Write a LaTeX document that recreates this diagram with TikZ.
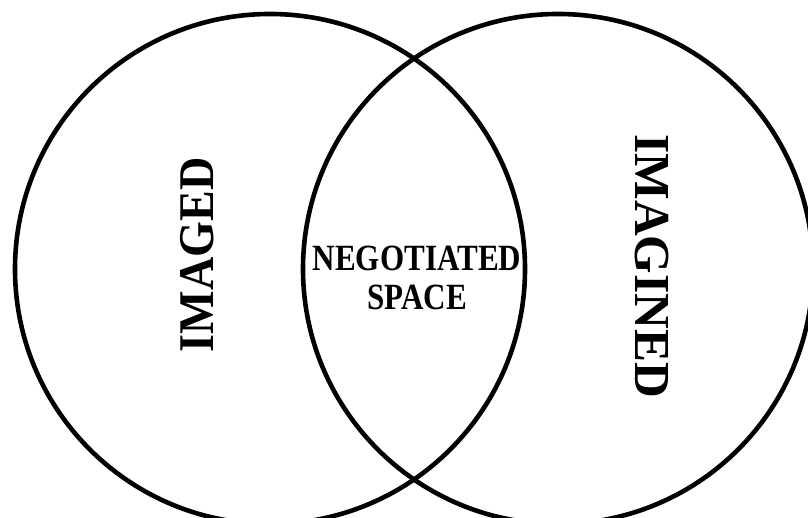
\documentclass[tikz,border=0pt]{standalone}
\usepackage{fontspec}
\setmainfont{Liberation Serif}
\begin{document}
\begin{tikzpicture}[x=1pt,y=1pt,
  venn/.style={circle, draw=black, line width=4.6pt, minimum size=510pt, inner sep=0pt},
  bigword/.style={inner sep=0pt, font=\fontsize{48}{50}\selectfont\bfseries},
  midword/.style={inner sep=0pt, align=center, xscale=0.84, font=\fontsize{37}{39}\selectfont\bfseries}]
\useasboundingbox (0,0) rectangle (808,518);
\fill[white] (0,0) rectangle (808,518);
\node[venn] (left) at (270,249) {};
\node[venn] (right) at (558,249) {};
\node[bigword, rotate=90, xscale=0.96, yscale=1.04] (imaged) at (197,263) {IMAGED};
\node[bigword, rotate=-90, xscale=1.03, yscale=1.05] (imagined) at (652,252) {IMAGINED};
\node[midword] (neg) at (417,240) {NEGOTIATED\\SPACE};
\end{tikzpicture}
\end{document}
